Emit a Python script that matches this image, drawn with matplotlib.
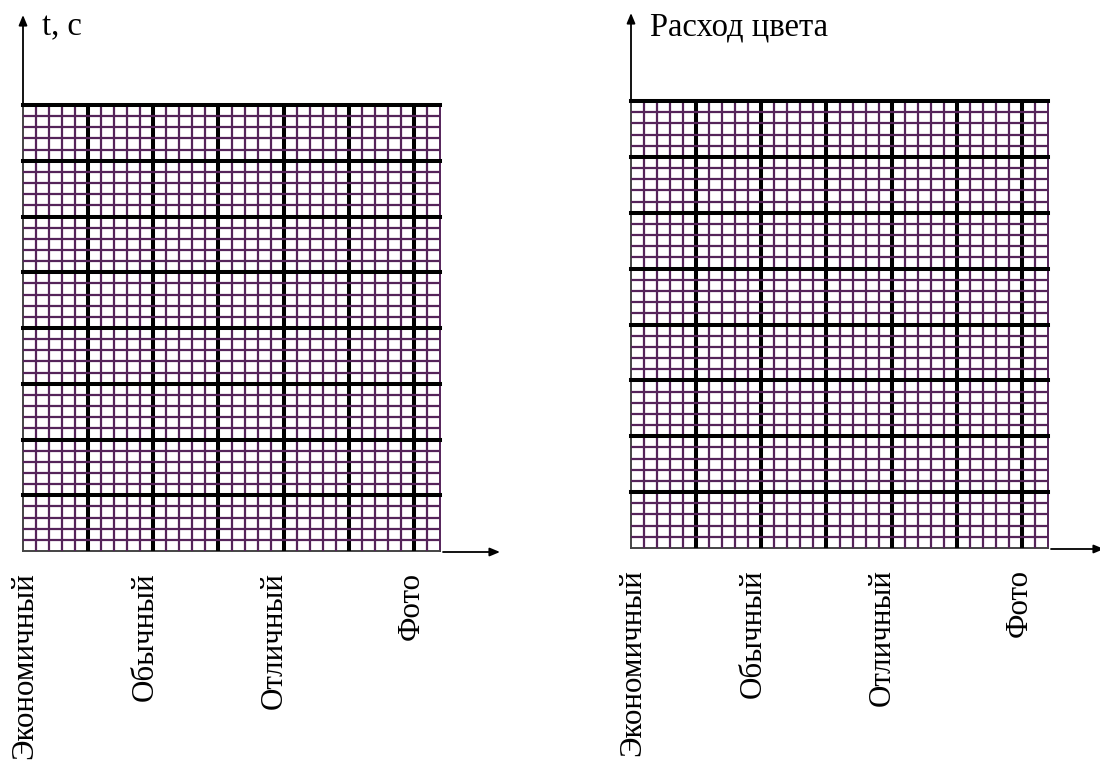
import numpy as np
import matplotlib
matplotlib.use('Agg')
import matplotlib.pyplot as plt
from matplotlib.patches import FancyArrowPatch
from matplotlib.ticker import FixedLocator

plt.rcParams['font.family'] = ['Liberation Serif', 'DejaVu Serif']

W, H = 1100, 769

# categories and where they sit along the x axis (in small grid cells)
categories = ['Экономичный', 'Обычный', 'Отличный', 'Фото']
cat_pos = [0.1, 9.4, 19.3, 29.8]
y_titles = ['t, с', 'Расход цвета']

# grid size in small cells, one big cell = 5 small
n_cols = 32
n_rows = 40

minor_color = '#55245a'
major_color = '#000000'

# panel boxes in pixels: left, top, right, bottom
panels = [(23, 105, 440, 551), (631, 101, 1048, 548)]
arrow_top = [15, 13]
arrow_right = [500, 1104]


def fx(px):
    return px / W


def fy(py):
    return 1 - py / H


fig = plt.figure(figsize=(W / 100, H / 100), dpi=100)
fig.patch.set_facecolor('white')

for i, (l, t, r, b) in enumerate(panels):
    ax = fig.add_axes([fx(l), fy(b), fx(r) - fx(l), fy(t) - fy(b)])
    ax.set_xlim(0, n_cols)
    ax.set_ylim(0, n_rows)

    ax.xaxis.set_major_locator(FixedLocator(np.arange(5, n_cols, 5)))
    ax.xaxis.set_minor_locator(FixedLocator(np.arange(1, n_cols, 1)))
    ax.yaxis.set_major_locator(FixedLocator(np.arange(5, n_rows + 1, 5)))
    ax.yaxis.set_minor_locator(FixedLocator(np.arange(1, n_rows, 1)))

    ax.grid(which='minor', color=minor_color, linewidth=1.6)
    ax.grid(which='major', color=major_color, linewidth=2.9)
    ax.set_axisbelow(False)
    for gl in ax.get_ygridlines():
        gl.set_clip_on(False)

    ax.tick_params(which='both', length=0, labelbottom=False, labelleft=False)
    for side in ['left', 'bottom']:
        ax.spines[side].set_color('#444444')
        ax.spines[side].set_linewidth(1.4)
    ax.spines['right'].set_color(minor_color)
    ax.spines['right'].set_linewidth(1.4)
    ax.spines['top'].set_visible(False)

    # category labels under the grid
    for name, xp in zip(categories, cat_pos):
        ax.text(xp, -21 / (b - t), name, transform=ax.get_xaxis_transform(),
                rotation=90, ha='center', va='top', fontsize=22.3, color='black')

    # axis arrows
    fig.add_artist(FancyArrowPatch(
        (fx(l), fy(t)), (fx(l), fy(arrow_top[i])), transform=fig.transFigure,
        arrowstyle='-|>,head_length=6,head_width=2.5', color='black', lw=1.3,
        shrinkA=0, shrinkB=0))
    fig.add_artist(FancyArrowPatch(
        (fx(r + 3), fy(b + 1)), (fx(arrow_right[i]), fy(b + 1)), transform=fig.transFigure,
        arrowstyle='-|>,head_length=6,head_width=2.5', color='black', lw=1.3,
        shrinkA=0, shrinkB=0))

    fig.text(fx(l + 19), fy(35), y_titles[i], fontsize=23.5, color='black',
             ha='left', va='baseline')

fig.savefig('out.png', dpi=100, facecolor='white')
